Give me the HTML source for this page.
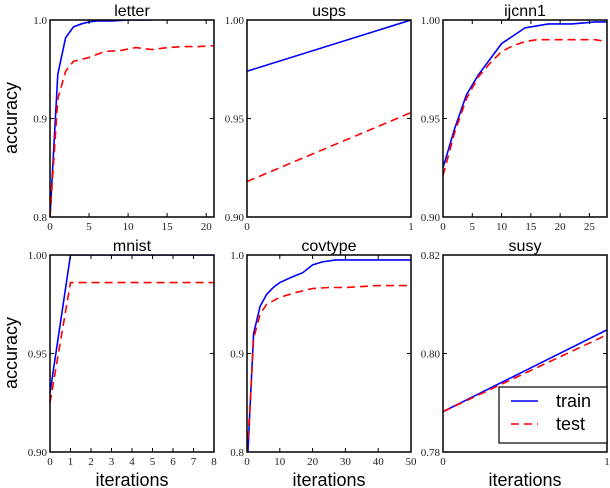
<!DOCTYPE html>
<html><head><meta charset="utf-8"><style>
html,body{margin:0;padding:0;background:#fff;}
svg{display:block;}
.tick{font-family:"Liberation Serif",serif;font-size:11px;fill:#222;}
.title{font-family:"Liberation Sans",sans-serif;font-size:16px;fill:#000;}
.lab{font-family:"Liberation Sans",sans-serif;font-size:18px;fill:#000;}
</style></head><body>
<svg id="chart" width="610" height="488" viewBox="0 0 610 488"></svg>
<script>
const panelNames = ["letter","usps","ijcnn1","mnist","covtype","susy"];
const letterTrainX = [0,1,2,3,4,5,6,8,10,13];
const letterTrainY = [0.8,0.945,0.982,0.993,0.996,0.998,0.999,0.999,1.0,1.0];
const letterTestX = [0,1,2,3,5,7,9,11,13,15,17,19,21];
const letterTestY = [0.8,0.92,0.948,0.958,0.962,0.968,0.969,0.972,0.970,0.972,0.973,0.973,0.974];
const uspsTrainX = [0,1];
const uspsTrainY = [0.974,1.0];
const uspsTestX = [0,1];
const uspsTestY = [0.918,0.953];
const ijcnnTrainX = [0,2,4,6,8,10,12,14,16,18,22,26,28];
const ijcnnTrainY = [0.925,0.945,0.962,0.972,0.980,0.988,0.992,0.996,0.997,0.998,0.998,0.999,0.999];
const ijcnnTestX = [0,2,4,6,8,10,12,14,16,20,26,28];
const ijcnnTestY = [0.921,0.943,0.96,0.971,0.978,0.984,0.987,0.989,0.990,0.990,0.990,0.989];
const mnistTrainX = [0,1,8];
const mnistTrainY = [0.93,1.0,1.0];
const mnistTestX = [0,1,8];
const mnistTestY = [0.925,0.986,0.986];
const covTrainX = [0,1,2,4,6,8,10,14,17,20,23,27,50];
const covTrainY = [0.78,0.85,0.92,0.948,0.96,0.967,0.972,0.978,0.982,0.99,0.993,0.995,0.995];
const covTestX = [0,1,2,4,6,10,15,20,25,30,35,40,50];
const covTestY = [0.8,0.85,0.915,0.94,0.95,0.957,0.962,0.966,0.967,0.967,0.968,0.969,0.969];
const susyTrainX = [0,1];
const susyTrainY = [0.7882,0.8048];
const susyTestX = [0,1];
const susyTestY = [0.7882,0.8038];
const xTicks = [[0,5,10,15,20],[0,1],[0,5,10,15,20,25],[0,1,2,3,4,5,6,7,8],[0,10,20,30,40,50],[0,1]];
const yTicks = [[0.8,0.9,1.0],[0.90,0.95,1.00],[0.90,0.95,1.00],[0.90,0.95,1.00],[0.8,0.9,1.0],[0.78,0.80,0.82]];
const yDigits = [1,2,2,2,1,2];
const xDomains = [[0,21],[0,1],[0,28],[0,8],[0,50],[0,1]];
const yDomains = [[0.8,1.0],[0.9,1.0],[0.9,1.0],[0.9,1.0],[0.8,1.0],[0.78,0.82]];
const series = [
 [letterTrainX,letterTrainY,letterTestX,letterTestY],
 [uspsTrainX,uspsTrainY,uspsTestX,uspsTestY],
 [ijcnnTrainX,ijcnnTrainY,ijcnnTestX,ijcnnTestY],
 [mnistTrainX,mnistTrainY,mnistTestX,mnistTestY],
 [covTrainX,covTrainY,covTestX,covTestY],
 [susyTrainX,susyTrainY,susyTestX,susyTestY]];
const NS="http://www.w3.org/2000/svg";
const svg=document.getElementById('chart');
function mk(tag,attrs,parent){const e=document.createElementNS(NS,tag);for(const k in attrs)e.setAttribute(k,attrs[k]);(parent||svg).appendChild(e);return e;}
const colL=[50,247,443], rowT=[20,255], W=164, H=197;
for(let i=0;i<6;i++){
  const L=colL[i%3], T=rowT[Math.floor(i/3)];
  const g=mk('g',{});
  
  
  const [x0,x1]=xDomains[i],[y0,y1]=yDomains[i];
  const sx=v=>L+(v-x0)/(x1-x0)*W, sy=v=>T+H-(v-y0)/(y1-y0)*H;
  const clipId='c'+i;
  const cp=mk('clipPath',{id:clipId},g);mk('rect',{x:L,y:T,width:W,height:H},cp);
  const s=series[i];
  const tr=mk('polyline',{points:s[0].map((x,k)=>sx(x)+','+sy(s[1][k])).join(' '),fill:'none',stroke:'#0000ff','stroke-width':1.6,'clip-path':'url(#'+clipId+')'},g);
  
  
  const te=mk('polyline',{points:s[2].map((x,k)=>sx(x)+','+sy(s[3][k])).join(' '),fill:'none',stroke:'#ff0000','stroke-width':1.6,'stroke-dasharray':'8,5','clip-path':'url(#'+clipId+')'},g);
  
  
  mk('rect',{x:L,y:T,width:W,height:H,fill:'none',stroke:'#000','stroke-width':1.5},g);
  xTicks[i].forEach(v=>{const x=sx(v);
    mk('line',{x1:x,y1:T+H,x2:x,y2:T+H-4,stroke:'#000'},g);
    mk('line',{x1:x,y1:T,x2:x,y2:T+4,stroke:'#000'},g);
    const t=mk('text',{x:x,y:T+H+13,'text-anchor':'middle',class:'tick'},g);t.textContent=v;
    
    });
  yTicks[i].forEach(v=>{const y=sy(v);
    mk('line',{x1:L,y1:y,x2:L+4,y2:y,stroke:'#000'},g);
    mk('line',{x1:L+W,y1:y,x2:L+W-4,y2:y,stroke:'#000'},g);
    const t=mk('text',{x:L-3,y:y+4,'text-anchor':'end',class:'tick'},g);t.textContent=v.toFixed(yDigits[i]);
    
    });
  const tt=mk('text',{x:L+W/2,y:T-4,'text-anchor':'middle',class:'title'},g);tt.textContent=panelNames[i];
  
  
}
[118,353].forEach(cy=>{const t=mk('text',{x:0,y:0,transform:'translate(17,'+cy+') rotate(-90)','text-anchor':'middle',class:'lab'});t.textContent='accuracy';
  
  });
[132,329,525].forEach(cx=>{const t=mk('text',{x:cx,y:486,'text-anchor':'middle',class:'lab'});t.textContent='iterations';
  
  });
const lg=mk('g',{});


mk('rect',{x:499,y:387,width:108,height:56,fill:'#fff',stroke:'#000','stroke-width':1.2},lg);
mk('line',{x1:511,y1:401,x2:538,y2:401,stroke:'#0000ff','stroke-width':1.6},lg);
mk('line',{x1:511,y1:424,x2:538,y2:424,stroke:'#ff0000','stroke-width':1.6,'stroke-dasharray':'8,5'},lg);
const l1=mk('text',{x:556,y:407,class:'lab'},lg);l1.textContent='train';


const l2=mk('text',{x:556,y:430,class:'lab'},lg);l2.textContent='test';


</script>
</body></html>
